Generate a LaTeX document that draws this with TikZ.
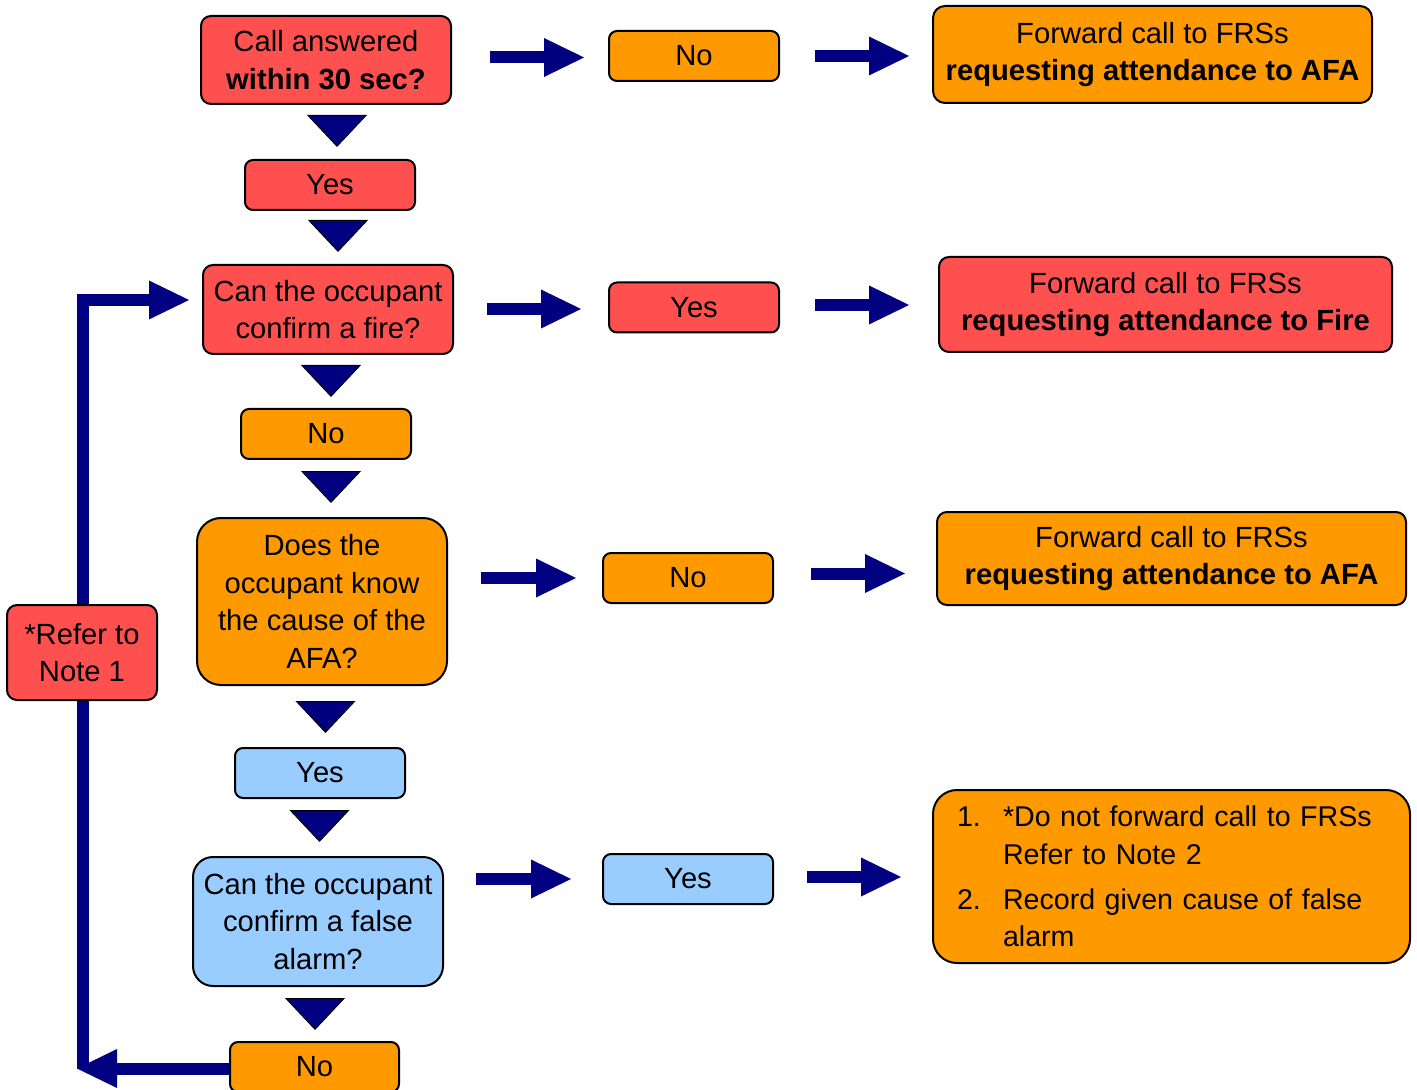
\documentclass[tikz,border=0pt]{standalone}
\usepackage{fontspec}
\setmainfont{Liberation Sans}
\usetikzlibrary{arrows.meta}
\definecolor{fred}{RGB}{255,80,80}
\definecolor{forange}{RGB}{255,153,0}
\definecolor{fblue}{RGB}{153,204,255}
\definecolor{fnavy}{RGB}{0,0,128}
\tikzset{
  bx/.style={draw=black, line width=1pt, align=center, inner sep=0pt, text=black,
    font=\fontsize{14.6pt}{18.75pt}\selectfont},
  redbox/.style={bx, fill=fred},
  orangebox/.style={bx, fill=forange},
  bluebox/.style={bx, fill=fblue},
  small/.style={minimum width=85pt, minimum height=25pt, rounded corners=4pt},
  harrow/.style={draw=fnavy, line width=6pt, -{Triangle[length=20pt,width=19.5pt,line width=0pt,fill=fnavy]}},
  loopline/.style={harrow, line join=miter},
  downtri/.style={draw=black, line width=0.5pt, -{Triangle[length=16pt,width=30pt,fill=fnavy]}}
}
\begin{document}
\begin{tikzpicture}[x=0.5pt,y=-0.5pt]
\useasboundingbox (0,0) rectangle (1417,1090);

% main column
\node[redbox, minimum width=125pt, minimum height=44pt, rounded corners=5pt] (A) at (326,60) {Call answered\\\textbf{within 30 sec?}};
\node[redbox, small] (Y1) at (330,185) {Yes};
\node[redbox, minimum width=125pt, minimum height=44.5pt, rounded corners=5pt] (B) at (328,309.5) {Can the occupant\\confirm a fire?};
\node[orangebox, small] (N1) at (326,434) {No};
\node[orangebox, minimum width=125pt, minimum height=83.5pt, rounded corners=12pt] (C) at (322,601.5) {Does the\\occupant know\\the cause of the\\AFA?};
\node[bluebox, small] (Y2) at (320,773) {Yes};
\node[bluebox, minimum width=125pt, minimum height=64.5pt, rounded corners=10pt] (D) at (318,921.5) {Can the occupant\\confirm a false\\alarm?};
\node[orangebox, small, minimum width=84.5pt] (N2) at (314.5,1067) {No};

% middle column
\node[orangebox, small] (N3) at (694,56) {No};
\node[redbox, small] (Y3) at (694,307.5) {Yes};
\node[orangebox, small] (N4) at (688,578) {No};
\node[bluebox, small] (Y4) at (688,879) {Yes};

% right column
\node[orangebox, minimum width=219.5pt, minimum height=48.5pt, rounded corners=6pt] (R1) at (1152.5,54.5) {Forward call to FRSs\\\textbf{requesting attendance to AFA}};
\node[redbox, minimum width=226.5pt, minimum height=47.5pt, rounded corners=5pt] (R2) at (1165.5,304.5) {Forward call to FRSs\\\textbf{requesting attendance to Fire}};
\node[orangebox, minimum width=234.5pt, minimum height=46.5pt, rounded corners=5pt] (R3) at (1171.5,558.5) {Forward call to FRSs\\\textbf{requesting attendance to AFA}};
\node[orangebox, minimum width=238.5pt, minimum height=86.5pt, rounded corners=12pt, text width=214.5pt, align=left,
  font=\fontsize{14.3pt}{18.9pt}\selectfont] (R4) at (1171.5,876.5)
  {\raisebox{-1.2pt}{\parbox{214.5pt}{\makebox[23pt][l]{1.}*Do not forward call to FRSs\\\hspace*{23pt}Refer to Note 2\\[3.5pt]\makebox[23pt][l]{2.}Record given cause of false\\\hspace*{23pt}alarm}}};

% downward triangles
\draw[downtri] ([shift={(11,12)}]A.south) -- ([shift={(7,-12)}]Y1.north);
\draw[downtri] ([shift={(8,11)}]Y1.south) -- ([shift={(10,-12)}]B.north);
\draw[downtri] ([shift={(3,11)}]B.south) -- ([shift={(5,-11)}]N1.north);
\draw[downtri] ([shift={(5,13)}]N1.south) -- ([shift={(9,-14)}]C.north);
\draw[downtri] ([shift={(3.5,17)}]C.south) -- ([shift={(5.5,-14)}]Y2.north);
\draw[downtri] ([shift={(-0.5,13)}]Y2.south) -- ([shift={(1.5,-14)}]D.north);
\draw[downtri] ([shift={(-3,13)}]D.south) -- ([shift={(0.5,-11)}]N2.north);

% horizontal arrows
\draw[harrow] ([shift={(38,-2.5)}]A.east) -- ([shift={(-24,1.5)}]N3.west);
\draw[harrow] ([shift={(35,0)}]N3.east) -- ([shift={(-23,1.5)}]R1.west);
\draw[harrow] ([shift={(33,-0.5)}]B.east) -- ([shift={(-27,1.5)}]Y3.west);
\draw[harrow] ([shift={(35,-2.5)}]Y3.east) -- ([shift={(-29,0.5)}]R2.west);
\draw[harrow] ([shift={(33,-23.5)}]C.east) -- ([shift={(-26,0)}]N4.west);
\draw[harrow] ([shift={(37,-4.5)}]N4.east) -- ([shift={(-31,15)}]R3.west);
\draw[harrow] ([shift={(32,-42.5)}]D.east) -- ([shift={(-31,0)}]Y4.west);
\draw[harrow] ([shift={(33,-2)}]Y4.east) -- ([shift={(-31,0.5)}]R4.west);

% loop back
\coordinate (ltip) at (77,1068.5);
\coordinate (lbase) at (83,1068.5);
\draw[loopline] (lbase) |- ([shift={(-13,-9.5)}]B.west);
\draw[harrow] ([shift={(0,1.5)}]N2.west) -- (ltip);

\node[redbox, minimum width=75pt, minimum height=47.5pt, rounded corners=5pt] (Note) at (82,652.5) {\raisebox{1.5pt}{\parbox{75pt}{\centering *Refer to\\Note 1}}};
\end{tikzpicture}
\end{document}
